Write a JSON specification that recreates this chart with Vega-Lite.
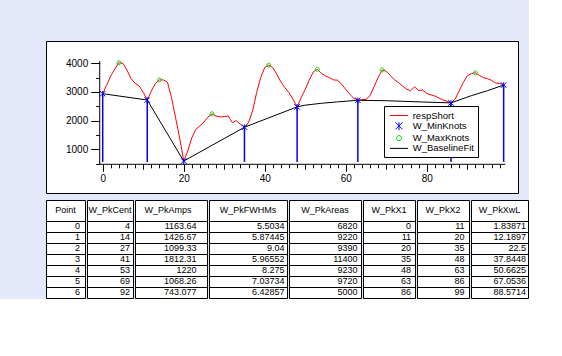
{
 "$schema": "https://vega.github.io/schema/vega-lite/v6.json",
 "background": "#e3e9fb",
 "padding": {"left": 45, "top": 40, "right": 0, "bottom": 0},
 "config": {
  "view": {"stroke": "black", "strokeWidth": 1, "fill": "white"},
  "font": "Liberation Sans",
  "axis": {"labelFont": "Liberation Sans", "labelColor": "black", "tickColor": "black"},
  "text": {"font": "Liberation Sans", "color": "black"}
 },
 "datasets": {
  "resp": [
   {"x":0,"y":2940},{"x":1,"y":3250},{"x":2,"y":3560},{"x":3,"y":3800},{"x":4,"y":4020},{"x":5,"y":4000},{"x":6,"y":3760},{"x":7,"y":3470},{"x":8,"y":3300},{"x":9,"y":3210},
   {"x":10,"y":2990},{"x":11,"y":2720},{"x":12,"y":3030},{"x":13,"y":3290},{"x":14,"y":3420},{"x":15,"y":3420},{"x":16,"y":3340},{"x":17,"y":2800},{"x":18,"y":2100},{"x":19,"y":1400},
   {"x":20,"y":590},{"x":21,"y":940},{"x":22,"y":1400},{"x":23,"y":1700},{"x":24,"y":1815},{"x":25,"y":1950},{"x":26,"y":2125},{"x":27,"y":2240},{"x":28,"y":2160},{"x":29,"y":2130},
   {"x":30,"y":2140},{"x":31,"y":2160},{"x":32,"y":1930},{"x":33,"y":2000},{"x":34,"y":1870},{"x":35,"y":1770},{"x":36,"y":1930},{"x":37,"y":2335},{"x":38,"y":2975},{"x":39,"y":3500},
   {"x":40,"y":3850},{"x":41,"y":3940},{"x":42,"y":3850},{"x":43,"y":3615},{"x":44,"y":3350},{"x":45,"y":3150},{"x":46,"y":2975},{"x":47,"y":2745},{"x":48,"y":2480},{"x":49,"y":2800},
   {"x":50,"y":3090},{"x":51,"y":3420},{"x":52,"y":3700},{"x":53,"y":3790},{"x":54,"y":3650},{"x":55,"y":3560},{"x":56,"y":3500},{"x":57,"y":3420},{"x":58,"y":3410},{"x":59,"y":3270},
   {"x":60,"y":3090},{"x":61,"y":2920},{"x":62,"y":2780},{"x":63,"y":2710},{"x":64,"y":2730},{"x":65,"y":2740},{"x":66,"y":2870},{"x":67,"y":3180},{"x":68,"y":3500},{"x":69,"y":3770},
   {"x":70,"y":3720},{"x":71,"y":3580},{"x":72,"y":3430},{"x":73,"y":3330},{"x":74,"y":3210},{"x":75,"y":3100},{"x":76,"y":3040},{"x":77,"y":3180},{"x":78,"y":3050},{"x":79,"y":3070},
   {"x":80,"y":2950},{"x":81,"y":2900},{"x":82,"y":2860},{"x":83,"y":2790},{"x":84,"y":2720},{"x":85,"y":2680},{"x":86,"y":2620},{"x":87,"y":2745},{"x":88,"y":3035},{"x":89,"y":3325},
   {"x":90,"y":3560},{"x":91,"y":3640},{"x":92,"y":3670},{"x":93,"y":3580},{"x":94,"y":3500},{"x":95,"y":3465},{"x":96,"y":3405},{"x":97,"y":3310},{"x":98,"y":3300},{"x":99,"y":3240}
  ],
  "minKnots": [
   {"x":0,"y":2940},{"x":11,"y":2720},{"x":20,"y":590},{"x":35,"y":1770},{"x":48,"y":2480},{"x":63,"y":2710},{"x":86,"y":2620},{"x":99,"y":3240}
  ],
  "maxKnots": [
   {"x":4,"y":4020},{"x":14,"y":3420},{"x":27,"y":2240},{"x":41,"y":3940},{"x":53,"y":3790},{"x":69,"y":3770},{"x":92,"y":3670}
  ],
  "baseline": [
   {"x":0,"y":2940},{"x":11,"y":2720},{"x":20,"y":590},{"x":35,"y":1770},{"x":48,"y":2480},{"x":50,"y":2540},{"x":54,"y":2605},{"x":58,"y":2655},{"x":63,"y":2710},{"x":70,"y":2695},{"x":79,"y":2650},{"x":86,"y":2620},{"x":88,"y":2720},{"x":91,"y":2870},{"x":95,"y":3045},{"x":99,"y":3240}
  ],
  "peaks": [
   {"Point":0,"W_PkCent":4,"W_PkAmps":1163.64,"W_PkFWHMs":5.5034,"W_PkAreas":6820,"W_PkX1":0,"W_PkX2":11,"W_PkXwL":1.83871},
   {"Point":1,"W_PkCent":14,"W_PkAmps":1426.67,"W_PkFWHMs":5.87445,"W_PkAreas":9220,"W_PkX1":11,"W_PkX2":20,"W_PkXwL":12.1897},
   {"Point":2,"W_PkCent":27,"W_PkAmps":1099.33,"W_PkFWHMs":9.04,"W_PkAreas":9390,"W_PkX1":20,"W_PkX2":35,"W_PkXwL":22.5},
   {"Point":3,"W_PkCent":41,"W_PkAmps":1812.31,"W_PkFWHMs":5.96552,"W_PkAreas":11400,"W_PkX1":35,"W_PkX2":48,"W_PkXwL":37.8448},
   {"Point":4,"W_PkCent":53,"W_PkAmps":1220,"W_PkFWHMs":8.275,"W_PkAreas":9230,"W_PkX1":48,"W_PkX2":63,"W_PkXwL":50.6625},
   {"Point":5,"W_PkCent":69,"W_PkAmps":1068.26,"W_PkFWHMs":7.03734,"W_PkAreas":9720,"W_PkX1":63,"W_PkX2":86,"W_PkXwL":67.0536},
   {"Point":6,"W_PkCent":92,"W_PkAmps":743.077,"W_PkFWHMs":6.42857,"W_PkAreas":5000,"W_PkX1":86,"W_PkX2":99,"W_PkXwL":88.5714}
  ]
 },
 "spacing": 5,
 "vconcat": [
  {
   "width": 472,
   "height": 152,
   "resolve": {"axis": {"x": "independent", "y": "independent"}},
   "layer": [
    {
     "data": {"name": "resp"},
     "mark": {"type": "line", "strokeWidth": 1},
     "encoding": {
      "x": {"field": "x", "type": "quantitative", "scale": {"domain": [-14.0, 102.54], "nice": false, "zero": false},
            "axis": {"orient": "bottom", "offset": -28.7, "domain": false, "grid": false, "title": null,
                     "values": [0,2,4,6,8,10,12,14,16,18,20,22,24,26,28,30,32,34,36,38,40,42,44,46,48,50,52,54,56,58,60,62,64,66,68,70,72,74,76,78,80,82,84,86,88,90,92,94,96,98],
                     "format": "d", "labelExpr": "datum.value % 20 === 0 ? datum.label : ''",
                     "tickSize": {"condition": [{"test": "datum.value % 20 === 0", "value": 7}, {"test": "datum.value % 10 === 0", "value": 5}], "value": 3.5},
                     "tickWidth": 1, "labelFontSize": 10, "labelPadding": 2, "labelOverlap": false, "labelFlush": false}},
      "y": {"field": "y", "type": "quantitative", "scale": {"domain": [-524, 4778], "nice": false, "zero": false},
            "axis": {"orient": "left", "offset": -53.7, "domain": false, "grid": false, "title": null,
                     "values": [500,1000,1500,2000,2500,3000,3500,4000],
                     "format": "d", "labelExpr": "datum.value % 1000 === 0 ? datum.label : ''",
                     "tickSize": {"condition": {"test": "datum.value % 1000 === 0", "value": 9}, "value": 4},
                     "tickWidth": 1, "labelFontSize": 10, "labelPadding": 3, "labelOverlap": false}},
      "color": {"datum": "respShort", "type": "nominal",
                "scale": {"domain": ["respShort", "W_MinKnots", "W_MaxKnots", "W_BaselineFit"], "range": ["#ff0000", "#0000ff", "#00dd00", "#000000"]},
                "legend": {"title": null, "orient": "none", "legendX": 338, "legendY": 65, "fillColor": "white", "strokeColor": "black", "padding": 4, "symbolOffset": 5.5, "labelOffset": 8.2, "rowPadding": 0.3, "symbolSize": 100, "symbolStrokeWidth": 1, "labelFont": "Liberation Sans", "labelFontSize": 9.5, "labelColor": "black", "labelLimit": 66, "symbolFillColor": "transparent"}}
     }
    },
    {
     "data": {"name": "baseline"},
     "mark": {"type": "line", "strokeWidth": 1},
     "encoding": {
      "x": {"field": "x", "type": "quantitative", "axis": null},
      "y": {"field": "y", "type": "quantitative", "axis": null},
      "color": {"datum": "W_BaselineFit", "type": "nominal"}
     }
    },
    {
     "data": {"name": "minKnots"},
     "mark": {"type": "rule", "color": "#0000ff", "strokeWidth": 1.5},
     "encoding": {
      "x": {"field": "x", "type": "quantitative", "axis": null},
      "y": {"field": "y", "type": "quantitative", "axis": null},
      "y2": {"datum": 560}
     }
    },
    {
     "data": {"name": "minKnots"},
     "mark": {"type": "point", "filled": false, "size": 62, "strokeWidth": 1, "opacity": 1},
     "encoding": {
      "x": {"field": "x", "type": "quantitative", "axis": null},
      "y": {"field": "y", "type": "quantitative", "axis": null},
      "color": {"datum": "W_MinKnots", "type": "nominal"},
      "shape": {"datum": "W_MinKnots", "type": "nominal",
                "scale": {"domain": ["respShort", "W_MinKnots", "W_MaxKnots", "W_BaselineFit"],
                          "range": ["M-1.8,0L1.8,0", "M-0.7,-0.7L0.7,0.7M-0.7,0.7L0.7,-0.7M0,-0.7L0,0.9", "M0.5,0A0.5,0.5,0,1,1,-0.5,0A0.5,0.5,0,1,1,0.5,0Z", "M-1.8,0L1.8,0"]},
                "legend": {"title": null, "orient": "none", "legendX": 338, "legendY": 65, "fillColor": "white", "strokeColor": "black", "padding": 4, "symbolOffset": 5.5, "labelOffset": 8.2, "rowPadding": 0.3, "symbolSize": 100, "symbolStrokeWidth": 1, "labelFont": "Liberation Sans", "labelFontSize": 9.5, "labelColor": "black", "labelLimit": 66, "symbolFillColor": "transparent"}}
     }
    },
    {
     "data": {"name": "maxKnots"},
     "mark": {"type": "point", "filled": false, "size": 62, "strokeWidth": 1, "opacity": 1},
     "encoding": {
      "x": {"field": "x", "type": "quantitative", "axis": null},
      "y": {"field": "y", "type": "quantitative", "axis": null},
      "color": {"datum": "W_MaxKnots", "type": "nominal"},
      "shape": {"datum": "W_MaxKnots", "type": "nominal"}
     }
    },
    {
     "data": {"values": [{}]},
     "mark": {"type": "rule", "color": "black", "strokeWidth": 1},
     "encoding": {
      "x": {"datum": -0.74, "type": "quantitative", "axis": null},
      "x2": {"datum": 99.4},
      "y": {"datum": 477, "type": "quantitative", "axis": null}
     }
    },
    {
     "data": {"values": [{}]},
     "mark": {"type": "rule", "color": "black", "strokeWidth": 1},
     "encoding": {
      "x": {"datum": -0.74, "type": "quantitative", "axis": null},
      "y": {"datum": 477, "type": "quantitative", "axis": null},
      "y2": {"datum": 4075}
     }
    }
   ]
  },
  {
   "spacing": 0,
   "hconcat": [
    {"width": 39, "height": 98, "resolve": {"axis": {"x": "independent", "y": "independent"}}, "layer": [
     {"data": {"name": "peaks"}, "mark": {"type": "text", "align": "right", "baseline": "middle", "dx": -5, "fontSize": 9},
      "encoding": {"x": {"datum": 1, "type": "quantitative", "scale": {"domain": [0, 1]}, "axis": null},
                   "y": {"field": "Point", "type": "quantitative", "scale": {"domain": [-2.364, 6.5], "reverse": true, "nice": false, "zero": false}, "axis": {"values": [-0.5,0.5,1.5,2.5,3.5,4.5,5.5], "grid": true, "gridColor": "black", "gridOpacity": 1, "gridWidth": 1, "labels": false, "ticks": false, "domain": false, "title": null}},
                   "text": {"field": "Point", "type": "nominal"}}},
     {"data": {"values": [{"h": "Point"}]}, "mark": {"type": "text", "align": "center", "baseline": "middle", "fontSize": 9},
      "encoding": {"x": {"datum": 0.5, "type": "quantitative", "axis": null}, "y": {"datum": -1.43, "type": "quantitative", "axis": null}, "text": {"field": "h", "type": "nominal"}}}
    ]},
    {"width": 46, "height": 98, "resolve": {"axis": {"x": "independent", "y": "independent"}}, "layer": [
     {"data": {"name": "peaks"}, "mark": {"type": "text", "align": "right", "baseline": "middle", "dx": -3, "fontSize": 9},
      "encoding": {"x": {"datum": 1, "type": "quantitative", "scale": {"domain": [0, 1]}, "axis": null},
                   "y": {"field": "Point", "type": "quantitative", "scale": {"domain": [-2.364, 6.5], "reverse": true, "nice": false, "zero": false}, "axis": {"values": [-0.5,0.5,1.5,2.5,3.5,4.5,5.5], "grid": true, "gridColor": "black", "gridOpacity": 1, "gridWidth": 1, "labels": false, "ticks": false, "domain": false, "title": null}},
                   "text": {"field": "W_PkCent", "type": "nominal"}}},
     {"data": {"values": [{"h": "W_PkCent"}]}, "mark": {"type": "text", "align": "center", "baseline": "middle", "fontSize": 9},
      "encoding": {"x": {"datum": 0.5, "type": "quantitative", "axis": null}, "y": {"datum": -1.43, "type": "quantitative", "axis": null}, "text": {"field": "h", "type": "nominal"}}}
    ]},
    {"width": 72, "height": 98, "resolve": {"axis": {"x": "independent", "y": "independent"}}, "layer": [
     {"data": {"name": "peaks"}, "mark": {"type": "text", "align": "right", "baseline": "middle", "dx": -10.5, "fontSize": 9},
      "encoding": {"x": {"datum": 1, "type": "quantitative", "scale": {"domain": [0, 1]}, "axis": null},
                   "y": {"field": "Point", "type": "quantitative", "scale": {"domain": [-2.364, 6.5], "reverse": true, "nice": false, "zero": false}, "axis": {"values": [-0.5,0.5,1.5,2.5,3.5,4.5,5.5], "grid": true, "gridColor": "black", "gridOpacity": 1, "gridWidth": 1, "labels": false, "ticks": false, "domain": false, "title": null}},
                   "text": {"field": "W_PkAmps", "type": "nominal"}}},
     {"data": {"values": [{"h": "W_PkAmps"}]}, "mark": {"type": "text", "align": "center", "baseline": "middle", "fontSize": 9, "dx": -3},
      "encoding": {"x": {"datum": 0.5, "type": "quantitative", "axis": null}, "y": {"datum": -1.43, "type": "quantitative", "axis": null}, "text": {"field": "h", "type": "nominal"}}}
    ]},
    {"width": 78, "height": 98, "resolve": {"axis": {"x": "independent", "y": "independent"}}, "layer": [
     {"data": {"name": "peaks"}, "mark": {"type": "text", "align": "right", "baseline": "middle", "dx": -2.5, "fontSize": 9},
      "encoding": {"x": {"datum": 1, "type": "quantitative", "scale": {"domain": [0, 1]}, "axis": null},
                   "y": {"field": "Point", "type": "quantitative", "scale": {"domain": [-2.364, 6.5], "reverse": true, "nice": false, "zero": false}, "axis": {"values": [-0.5,0.5,1.5,2.5,3.5,4.5,5.5], "grid": true, "gridColor": "black", "gridOpacity": 1, "gridWidth": 1, "labels": false, "ticks": false, "domain": false, "title": null}},
                   "text": {"field": "W_PkFWHMs", "type": "nominal"}}},
     {"data": {"values": [{"h": "W_PkFWHMs"}]}, "mark": {"type": "text", "align": "center", "baseline": "middle", "fontSize": 9},
      "encoding": {"x": {"datum": 0.5, "type": "quantitative", "axis": null}, "y": {"datum": -1.43, "type": "quantitative", "axis": null}, "text": {"field": "h", "type": "nominal"}}}
    ]},
    {"width": 72, "height": 98, "resolve": {"axis": {"x": "independent", "y": "independent"}}, "layer": [
     {"data": {"name": "peaks"}, "mark": {"type": "text", "align": "right", "baseline": "middle", "dx": -3.5, "fontSize": 9},
      "encoding": {"x": {"datum": 1, "type": "quantitative", "scale": {"domain": [0, 1]}, "axis": null},
                   "y": {"field": "Point", "type": "quantitative", "scale": {"domain": [-2.364, 6.5], "reverse": true, "nice": false, "zero": false}, "axis": {"values": [-0.5,0.5,1.5,2.5,3.5,4.5,5.5], "grid": true, "gridColor": "black", "gridOpacity": 1, "gridWidth": 1, "labels": false, "ticks": false, "domain": false, "title": null}},
                   "text": {"field": "W_PkAreas", "type": "nominal"}}},
     {"data": {"values": [{"h": "W_PkAreas"}]}, "mark": {"type": "text", "align": "center", "baseline": "middle", "fontSize": 9},
      "encoding": {"x": {"datum": 0.5, "type": "quantitative", "axis": null}, "y": {"datum": -1.43, "type": "quantitative", "axis": null}, "text": {"field": "h", "type": "nominal"}}}
    ]},
    {"width": 52, "height": 98, "resolve": {"axis": {"x": "independent", "y": "independent"}}, "layer": [
     {"data": {"name": "peaks"}, "mark": {"type": "text", "align": "right", "baseline": "middle", "dx": -4, "fontSize": 9},
      "encoding": {"x": {"datum": 1, "type": "quantitative", "scale": {"domain": [0, 1]}, "axis": null},
                   "y": {"field": "Point", "type": "quantitative", "scale": {"domain": [-2.364, 6.5], "reverse": true, "nice": false, "zero": false}, "axis": {"values": [-0.5,0.5,1.5,2.5,3.5,4.5,5.5], "grid": true, "gridColor": "black", "gridOpacity": 1, "gridWidth": 1, "labels": false, "ticks": false, "domain": false, "title": null}},
                   "text": {"field": "W_PkX1", "type": "nominal"}}},
     {"data": {"values": [{"h": "W_PkX1"}]}, "mark": {"type": "text", "align": "center", "baseline": "middle", "fontSize": 9},
      "encoding": {"x": {"datum": 0.5, "type": "quantitative", "axis": null}, "y": {"datum": -1.43, "type": "quantitative", "axis": null}, "text": {"field": "h", "type": "nominal"}}}
    ]},
    {"width": 52, "height": 98, "resolve": {"axis": {"x": "independent", "y": "independent"}}, "layer": [
     {"data": {"name": "peaks"}, "mark": {"type": "text", "align": "right", "baseline": "middle", "dx": -4.5, "fontSize": 9},
      "encoding": {"x": {"datum": 1, "type": "quantitative", "scale": {"domain": [0, 1]}, "axis": null},
                   "y": {"field": "Point", "type": "quantitative", "scale": {"domain": [-2.364, 6.5], "reverse": true, "nice": false, "zero": false}, "axis": {"values": [-0.5,0.5,1.5,2.5,3.5,4.5,5.5], "grid": true, "gridColor": "black", "gridOpacity": 1, "gridWidth": 1, "labels": false, "ticks": false, "domain": false, "title": null}},
                   "text": {"field": "W_PkX2", "type": "nominal"}}},
     {"data": {"values": [{"h": "W_PkX2"}]}, "mark": {"type": "text", "align": "center", "baseline": "middle", "fontSize": 9},
      "encoding": {"x": {"datum": 0.5, "type": "quantitative", "axis": null}, "y": {"datum": -1.43, "type": "quantitative", "axis": null}, "text": {"field": "h", "type": "nominal"}}}
    ]},
    {"width": 57, "height": 98, "resolve": {"axis": {"x": "independent", "y": "independent"}}, "layer": [
     {"data": {"name": "peaks"}, "mark": {"type": "text", "align": "right", "baseline": "middle", "dx": -2, "fontSize": 9},
      "encoding": {"x": {"datum": 1, "type": "quantitative", "scale": {"domain": [0, 1]}, "axis": null},
                   "y": {"field": "Point", "type": "quantitative", "scale": {"domain": [-2.364, 6.5], "reverse": true, "nice": false, "zero": false}, "axis": {"values": [-0.5,0.5,1.5,2.5,3.5,4.5,5.5], "grid": true, "gridColor": "black", "gridOpacity": 1, "gridWidth": 1, "labels": false, "ticks": false, "domain": false, "title": null}},
                   "text": {"field": "W_PkXwL", "type": "nominal"}}},
     {"data": {"values": [{"h": "W_PkXwL"}]}, "mark": {"type": "text", "align": "center", "baseline": "middle", "fontSize": 9},
      "encoding": {"x": {"datum": 0.5, "type": "quantitative", "axis": null}, "y": {"datum": -1.43, "type": "quantitative", "axis": null}, "text": {"field": "h", "type": "nominal"}}}
    ]}
   ]
  }
 ]
}
